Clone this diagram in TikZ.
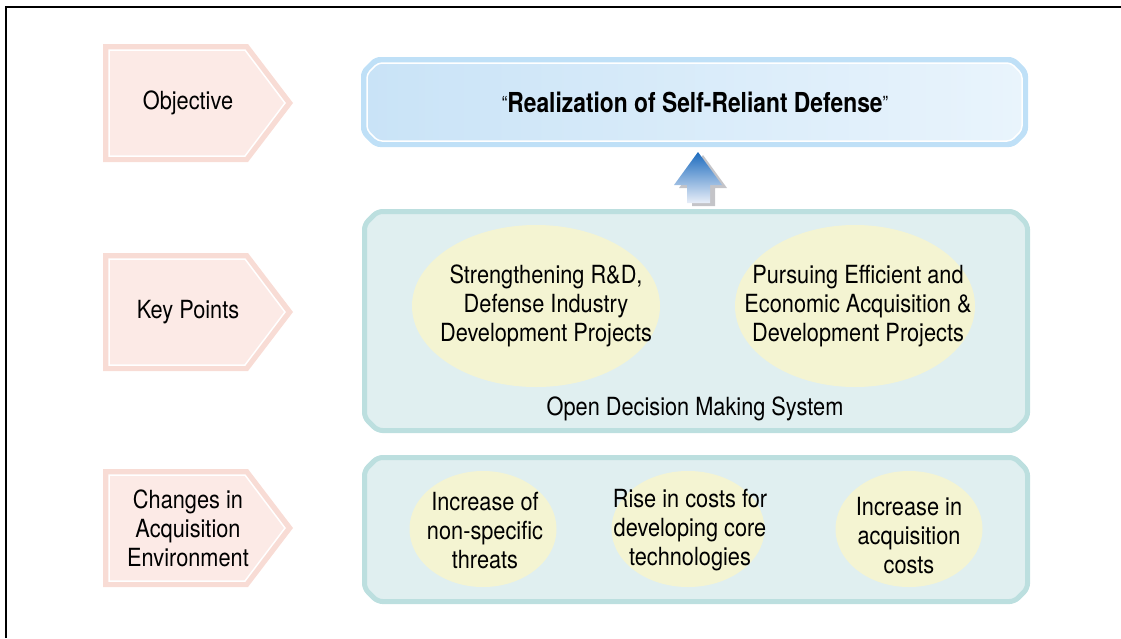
\documentclass[tikz,border=0pt]{standalone}
\usepackage{fontspec}
\setmainfont{TeX Gyre Heros}[FakeStretch=0.87]
\newfontfamily\titlefont{TeX Gyre Heros}[FakeStretch=0.83]
\usetikzlibrary{shapes.geometric}

\definecolor{tagfill}{HTML}{FCEAE6}
\definecolor{tagedge}{HTML}{F8DCD5}
\definecolor{goaledge}{HTML}{BFE0F7}
\definecolor{goalleft}{HTML}{C9E3F7}
\definecolor{goalright}{HTML}{E9F4FC}
\definecolor{paneledge}{HTML}{BCDFDF}
\definecolor{panelfill}{HTML}{E0EFF0}
\definecolor{bubblefill}{HTML}{F4F4D2}
\definecolor{arrowtop}{HTML}{1C6BBE}
\definecolor{arrowbot}{HTML}{E8EEF8}
\definecolor{arrowshadow}{HTML}{C4C4C8}

\tikzset{
  tagtext/.style={align=center, font=\fontsize{25}{29}\selectfont},
  bodytext/.style={align=center, font=\fontsize{25}{29}\selectfont},
  bubble/.style={ellipse, fill=bubblefill, inner sep=0pt},
}

% left pentagon tag: name, centre y, text
\newcommand{\stagetag}[3]{%
  \fill[tagedge] (103,#2-59) -- (248,#2-59) -- (293,#2) -- (248,#2+59) -- (103,#2+59) -- cycle;
  \filldraw[fill=tagfill, draw=white, line width=1.5] (109,#2-53) -- (245,#2-53) -- (285,#2) -- (245,#2+53) -- (109,#2+53) -- cycle;
  \node[tagtext] (#1) at (188,#2) {#3};
}

% chamfered box: style, x1, y1, x2, y2, cut
\newcommand{\cutbox}[6]{%
  \path[#1] (#2+#6,#3) -- (#4-#6,#3) -- (#4,#3+#6) -- (#4,#5-#6) -- (#4-#6,#5)
    -- (#2+#6,#5) -- (#2,#5-#6) -- (#2,#3+#6) -- cycle;
}

\begin{document}
\begin{tikzpicture}[x=1pt, y=-1pt]
    \useasboundingbox (0,0) rectangle (1121,638);
    \draw[line width=1.5] (6,638) -- (6,7) -- (1121,7);

    % row tags
    \stagetag{objective}{103}{Objective}
    \stagetag{keypoints}{312}{Key Points}
    \stagetag{changes}{528}{Changes in\\Acquisition\\Environment}

    % objective box
    \cutbox{fill=goaledge, rounded corners=5}{361}{57}{1028}{147}{14}
    \cutbox{left color=goalleft, right color=goalright, draw=white, line width=1.5, rounded corners=4}{367}{63}{1022}{141}{11}
    \node[font=\titlefont\fontsize{27.5}{33}\selectfont] (goal) at (695,102)
        {\raisebox{2pt}{\fontsize{20}{20}\selectfont“}\textbf{Realization of Self-Reliant Defense}\raisebox{2pt}{\fontsize{20}{20}\selectfont”}};

    % upward arrow
    \fill[arrowshadow, xshift=5, yshift=-3] (698,152) -- (722,185) -- (710,185) -- (710,203)
        -- (687,203) -- (687,185) -- (674,185) -- cycle;
    \shade[top color=arrowtop, bottom color=arrowbot] (698,152) -- (722,185) -- (710,185) -- (710,203)
        -- (687,203) -- (687,185) -- (674,185) -- cycle;

    % key points panel
    \cutbox{draw=paneledge, fill=panelfill, line width=5, rounded corners=5}{364.5}{211.5}{1027.5}{430.5}{13}
    \node[bubble, minimum width=248, minimum height=162] (rnd) at (536,306) {};
    \node[bodytext] (rndtext) at (546,306) {Strengthening R\&D,\\Defense Industry\\Development Projects};
    \node[bubble, minimum width=240, minimum height=162] (acq) at (855,306) {};
    \node[bodytext] (acqtext) at (858,306) {Pursuing Efficient and\\Economic Acquisition \&\\Development Projects};
    \node[bodytext] (open) at (695,409) {Open Decision Making System};

    % environment panel
    \cutbox{draw=paneledge, fill=panelfill, line width=5, rounded corners=5}{364.5}{457.5}{1027.5}{601.5}{13}
    \node[bubble, minimum width=147, minimum height=116] (threat) at (483,529) {};
    \node[bodytext] (threattext) at (485,531) {Increase of\\non-specific\\threats};
    \node[bubble, minimum width=153, minimum height=116] (tech) at (688,529) {};
    \node[bodytext] (techtext) at (690,530) {Rise in costs for\\developing core\\technologies};
    \node[bubble, minimum width=147, minimum height=116] (cost) at (909,529) {};
    \node[bodytext] (costtext) at (909,536) {Increase in\\acquisition\\costs};
\end{tikzpicture}
\end{document}
